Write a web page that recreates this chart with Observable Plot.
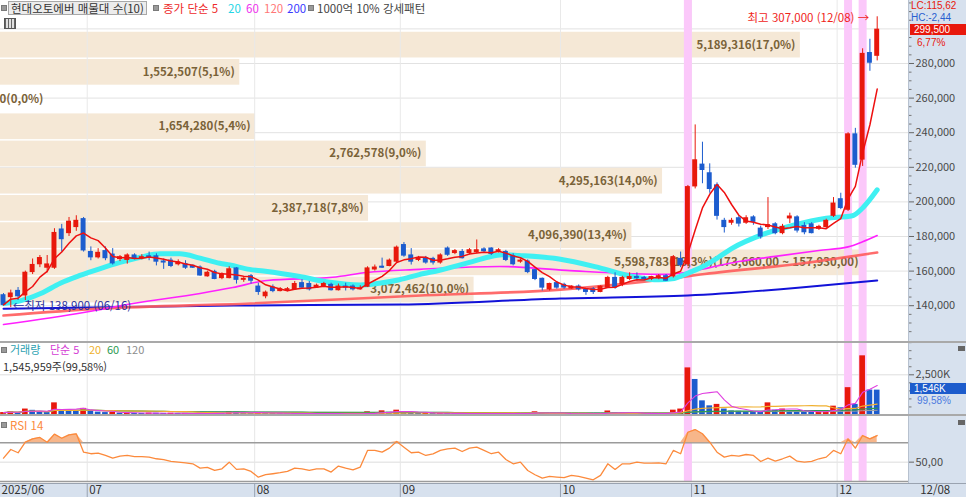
<!DOCTYPE html>
<html lang="ko">
<head>
<meta charset="utf-8">
<title>현대오토에버 차트</title>
<script src="https://cdn.jsdelivr.net/npm/d3@7"></script>
<script src="https://cdn.jsdelivr.net/npm/@observablehq/plot@0.6"></script>
<style>
  html,body{margin:0;padding:0;background:#fff;}
  #wrap{position:relative;width:966px;height:497px;overflow:hidden;background:#fff;font-family:"Noto Sans CJK KR","Noto Sans",sans-serif;}
  .t{position:absolute;white-space:nowrap;font-size:11.5px;line-height:13px;}
  .r{position:absolute;white-space:nowrap;font-family:"Liberation Sans","DejaVu Sans",sans-serif;font-size:10px;line-height:10px;}
  .sq{position:absolute;width:4px;height:4px;background:#9a9a9a;border:1px solid #7a7a7a;}
  .ln{position:absolute;left:0;width:966px;}
</style>
</head>
<body>
<div id="wrap"></div>
<script>
// ---------------- data ----------------
const open = [146000,145000,148500,146000,159500,164000,162000,162000,184000,182000,
185500,190000,171000,168000,171500,169500,167000,166500,169000,167500,
168500,168500,165500,166000,164000,164000,163000,162000,157000,159500,
156000,156000,161500,155000,157000,151000,145500,150500,148500,149000,
149500,153000,152500,150500,151000,152000,149000,151000,151000,149500,
151000,161000,162500,163000,165500,175000,169000,166500,167500,167000,
165000,173000,170500,171000,170500,171000,172500,173000,171500,171000,
168500,165500,165500,160500,155500,149500,153000,152000,150000,151000,
149000,149500,148000,150500,156000,152500,155500,156500,156000,155500,
156000,157000,157000,167000,164000,209000,221500,216500,209500,189000,
188000,190500,188000,191000,184500,185500,187000,182000,190500,191000,
186000,187000,184500,185500,192000,201500,195500,239000,224500,286000,
284500];
const high = [147000,149000,150500,160000,167000,169000,169000,184500,187000,191000,
192000,191000,174000,173000,174000,173000,169000,170000,170000,169500,
171000,170000,167000,167500,166500,166000,163500,163000,160000,160500,
159000,162500,162000,156500,158000,153000,148500,152000,150500,150500,
154000,155000,154000,152500,153500,153000,152500,153000,152000,151500,
162500,163500,167500,167000,174500,176500,173000,168500,168500,168000,
170000,174000,172500,172500,173000,178000,173500,173500,173000,172000,
170000,167000,166500,161000,156000,153000,154000,153000,151500,152000,
150000,150500,151500,157000,159000,157000,159000,159000,157000,157000,
158000,158000,169000,171000,209500,244500,234500,222000,211000,190500,
190500,192000,192000,192000,186000,202500,188000,187000,193500,192000,
188000,188000,186500,190000,202500,205000,240000,242500,288500,294000,
307000];
const low = [140000,138900,143000,143000,158000,162000,159000,161000,171000,180000,
183000,171000,166000,167000,166000,163500,165500,164000,166500,166500,
166000,163000,161000,162000,163000,161000,161500,157000,156500,155000,
155000,155500,152500,153500,152500,146000,144000,147500,148000,148000,
149000,150000,148500,150000,150500,148500,148500,148500,148500,149000,
150500,160000,161500,162500,164500,168000,163500,165500,164000,163500,
164000,168500,169500,167000,169500,170000,170500,169000,170500,165500,
163000,164500,158500,154500,148500,148500,149500,149500,149500,148500,
146000,146500,147500,150000,149500,151000,154500,154000,154500,154500,
155000,154000,156000,162000,162500,207500,210500,205000,189500,182000,
186500,185500,187000,186500,178500,184000,181000,181000,187500,182000,
181000,181500,183500,184500,191000,195500,194500,219500,220500,275500,
281500];
const close = [140500,147000,145500,159000,163500,167500,163800,182000,178500,188500,
189000,172000,168000,170500,167500,164500,168000,169000,167500,168000,
168000,165500,165000,163000,165000,162000,162000,157500,159000,155500,
158000,161000,155000,155500,154500,148000,147500,148500,149500,149500,
152500,150500,149500,151500,152500,149000,151000,150500,149500,150000,
161500,162000,162000,166000,173500,169000,165500,167000,165000,165000,
169000,169500,171500,167500,172000,172000,171500,170000,172000,166500,
164000,166000,159500,155500,150500,152500,150500,150500,151000,149500,
148000,148000,151000,156000,150500,156000,156500,156000,155500,156500,
157000,154500,168000,163500,208500,224000,218500,207500,192000,185500,
189000,187500,190500,188500,180000,186500,182000,185500,191500,183500,
182500,182000,185500,189000,199000,196500,239000,221500,285500,280500,
299500];
const volume = [150000,200000,160000,370000,290000,180000,150000,755000,340000,320000,
260000,410000,250000,180000,150000,170000,120000,130000,110000,100000,
120000,110000,100000,110000,90000,100000,80000,110000,100000,120000,
100000,200000,180000,120000,110000,150000,130000,100000,80000,70000,
100000,90000,100000,70000,80000,90000,80000,60000,70000,60000,
200000,130000,260000,170000,300000,200000,150000,100000,110000,90000,
120000,110000,80000,90000,85000,120000,80000,90000,70000,100000,
90000,70000,120000,200000,140000,90000,80000,90000,70000,80000,
60000,70000,80000,250000,150000,120000,110000,90000,100000,80000,
90000,80000,300000,370000,2930000,2210000,880000,570000,660000,370000,
250000,230000,200000,190000,180000,755000,300000,370000,250000,200000,
180000,170000,200000,260000,550000,450000,1700000,660000,3680000,1552480,
1545959];
const rsi14 = [54.1,63.1,59.7,70.6,74.1,75.5,70.6,78.9,74.7,78.2,
79.3,60.3,58.7,59.3,56.9,54.1,56.2,56.9,55.8,55.8,
55.2,53.5,52.5,50.7,50.0,49.3,48.3,43.8,44.5,41.4,
43.1,50.0,42.5,43.1,40.4,34.5,37.0,38.0,39.1,40.4,
43.8,43.1,41.4,43.1,43.1,39.7,45.9,43.8,42.1,44.9,
62.1,62.1,60.3,64.5,71.3,65.5,59.7,60.3,56.9,58.6,
62.1,63.8,64.5,61.0,64.5,65.5,62.1,58.7,60.3,52.8,
48.3,50.0,41.4,37.0,33.5,35.3,34.6,34.0,36.3,35.3,
33.5,31.8,36.3,48.3,42.5,48.3,48.3,50.0,49.0,49.0,
49.3,48.3,62.1,58.7,80.9,83.7,79.3,70.6,60.3,55.2,
56.9,56.2,57.9,56.9,50.7,54.1,51.0,53.5,56.2,51.0,
50.0,50.7,53.5,55.2,62.1,58.7,74.1,64.5,77.5,74.1,
77.5];

// moving-average lines read as sample points (candle index, price)
const ma20Index = [0,2.3,5.1,7.8,10.5,13.3,16,18.8,21.5,24.2,27,29.7,31.1,33.8,35.7,40.5,44.8,49,51.6,54.4,57.1,59.9,64,66.5,68.5,70.8,76.3,81.8,86.3,90,91.8,94.1,96,98.2,100,104.5,108.5,113,116.6,118,120];
const ma20Value = [141300,142800,147000,153000,157500,161500,165000,168000,170000,170000,167500,164500,163500,161000,160000,157000,153500,152000,153000,155000,158000,160500,165000,168000,169500,169000,167000,162000,157000,155000,155500,159000,162500,168000,173000,181500,186500,190500,192000,196500,207000];
const ma60Index = [0,11.2,17.8,27,31.5,36.2,45.2,49.9,57.1,68.1,77.3,91,93.7,97,101,106,112,116,118,120];
const ma60Value = [129100,136200,141300,147100,150500,154600,156400,159200,161000,162700,160400,158100,159200,162000,165500,168500,171900,174000,177000,180600];
const ma120Index = [0,13.3,33.9,57.3,76.5,91.2,95.7,109.5,120];
const ma120Value = [134300,138300,141300,145900,149300,155500,158000,164400,170700];
const ma200Index = [0,31.6,54.5,76.5,94,109.5,120];
const ma200Value = [138200,140100,140700,144200,145900,150500,154600];

// volume-at-price bands (매물대), bottom to top
const bandLow    = [142200,157930,173660,189390,205120,220850,236580,252310,268040,283770];
const bandHigh   = [157930,173660,189390,205120,220850,236580,252310,268040,283770,299500];
const bandVolume = [3072462,5598783,4096390,2387718,4295163,2762578,1654280,0,1552507,5189316];
const bandPct    = [10.0,18.3,13.4,7.8,14.0,9.0,5.4,0.0,5.1,17.0];

const patternIdx = [94,116,118];          // 강세패턴 days
const monthStartIdx = [12,35,55,77,95,115];
const monthLabels = ["07","08","09","10","11","12"];
const firstLabel = "2025/06";
const lastLabel = "12/08";
const highDate = "12/08", lowDate = "06/16";
const priceTicks = [140000,160000,180000,200000,220000,240000,260000,280000];
const gridPrices = [140000,160000,180000,200000,220000,240000,260000,280000,300000];
const volTicks = [2500000];
const rsiLevels = [70,30];

// ---------------- setup ----------------
const W = 966, PR = 58, FRAME_W = W - PR;
const XD = [-0.412, 124.3];
const FONT = '"Noto Sans CJK KR","Noto Sans",sans-serif';
const RED = "#e8180c", BLUE = "#1c5cce";
const fmt = d3.format(",");
const dec = (v, n) => v.toFixed(n).replace(".", ",");
const N = close.length;
const candles = close.map((c, i) => ({i, o: open[i], h: high[i], l: low[i], c, up: c >= open[i]}));
const pxToX = px => XD[0] + px / FRAME_W * (XD[1] - XD[0]);
const maxBandVol = d3.max(bandVolume);
const maxBandIdx = d3.maxIndex(bandVolume);
const bands = bandLow.map((lo, k) => {
  const vol = bandVolume[k];
  let label = `${fmt(vol)}(${dec(bandPct[k], 1)}%)`;
  if (k === maxBandIdx) label += `(${fmt(bandHigh[k])},00 ~ ${fmt(lo)},00)`;
  return {lo, hi: bandHigh[k], vol, label, x2: pxToX(vol / maxBandVol * 863)};
});
const ptsOf = (idx, val) => idx.map((x, k) => ({x, v: val[k]}));
const monthX = d => d - 0.5;
const commonStyle = {background: "transparent", fontFamily: FONT, fontSize: "11px", overflow: "visible"};
const hiI = d3.maxIndex(high), loI = d3.minIndex(low);

// ---------------- price panel ----------------
const pricePlot = Plot.plot({
  width: W, height: 341, marginTop: 0, marginBottom: 0, marginLeft: 0, marginRight: PR,
  style: commonStyle,
  x: {domain: XD, axis: null},
  y: {domain: [119306, 316416], label: null},
  marks: [
    Plot.ruleY(gridPrices, {stroke: "#e2e2e2"}),
    Plot.rect(bands.filter(b => b.vol > 0), {x1: () => XD[0], x2: "x2", y1: "lo", y2: "hi", fill: "#f5e8d6", insetTop: 2.5, insetBottom: -1}),
    Plot.ruleX(monthStartIdx, {x: monthX, stroke: "#e9e9e9"}),
    Plot.ruleX(patternIdx, {x: d => d, stroke: "#fbc8fa", strokeWidth: 8}),
    Plot.text(bands.filter(b => b.vol > 0), {x: "x2", y: d => (d.lo + d.hi) / 2, text: "label", textAnchor: "end", dx: -5, dy: 1.5, fill: "#7a6238", fontSize: 11.5, fontWeight: "bold"}),
    Plot.text(bands.filter(b => b.vol === 0), {x: () => XD[0], y: d => (d.lo + d.hi) / 2, text: "label", textAnchor: "start", dx: -1, dy: 1.5, fill: "#7a6238", fontSize: 11.5, fontWeight: "bold"}),
    Plot.line(ptsOf(ma200Index, ma200Value), {x: "x", y: "v", stroke: "#1212d8", strokeWidth: 2, curve: "monotone-x"}),
    Plot.line(ptsOf(ma120Index, ma120Value), {x: "x", y: "v", stroke: "#ff5c5c", strokeWidth: 2.6, strokeOpacity: 0.9, curve: "monotone-x"}),
    Plot.line(ptsOf(ma60Index, ma60Value), {x: "x", y: "v", stroke: "#ff20ff", strokeWidth: 1.6, curve: "monotone-x"}),
    Plot.line(ptsOf(ma20Index, ma20Value), {x: "x", y: "v", stroke: "#3ff0f2", strokeWidth: 5, curve: "monotone-x"}),
    Plot.ruleX(candles, {filter: d => d.up, x: "i", y1: "l", y2: "h", stroke: RED, strokeWidth: 1}),
    Plot.ruleX(candles, {filter: d => !d.up, x: "i", y1: "l", y2: "h", stroke: BLUE, strokeWidth: 1}),
    Plot.rect(candles, {filter: d => d.up, x1: d => d.i - 0.34, x2: d => d.i + 0.34, y1: d => Math.min(d.o, d.c), y2: d => Math.max(d.o, d.c), fill: RED, insetTop: -0.6, insetBottom: -0.6}),
    Plot.rect(candles, {filter: d => !d.up, x1: d => d.i - 0.34, x2: d => d.i + 0.34, y1: d => Math.min(d.o, d.c), y2: d => Math.max(d.o, d.c), fill: BLUE, insetTop: -0.6, insetBottom: -0.6}),
    Plot.lineY(candles, Plot.windowY({k: 5, anchor: "end"}, {x: "i", y: "c", stroke: "#ee1010", strokeWidth: 1.5})),
    Plot.text([hiI], {x: d => d, y: d => high[d], text: d => `최고 ${fmt(high[d])} (${highDate}) →`, textAnchor: "end", dx: -8, dy: 2, fill: "#f0241a", fontSize: 11.5}),
    Plot.text([loI], {x: d => d, y: d => low[d], text: d => `←최저 ${fmt(low[d])} (${lowDate})`, textAnchor: "start", dx: 2, dy: -1, fill: "#2b309c", fontSize: 11.5}),
    Plot.axisY(d3.range(120000, 316000, 5000).filter(v => v % 20000 !== 0), {anchor: "right", tickSize: 2.5, tickFormat: () => "", stroke: "#777", label: null}),
    Plot.axisY(priceTicks, {anchor: "right", tickSize: 5, tickPadding: 2, tickFormat: fmt, stroke: "#666", fill: "#4a4a4a", fontSize: 11, label: null})
  ]
});

// ---------------- volume panel ----------------
const vols = volume.map((v, i) => ({i, v, up: i === 0 || v >= volume[i - 1]}));
const volPlot = Plot.plot({
  width: W, height: 74, marginTop: 0, marginBottom: 0, marginLeft: 0, marginRight: PR,
  style: commonStyle,
  x: {domain: XD, axis: null},
  y: {domain: [0, 4571000], range: [73.5, 0], label: null},
  marks: [
    Plot.ruleY(volTicks, {stroke: "#dedede"}),
    Plot.ruleX(monthStartIdx, {x: monthX, stroke: "#e6e6e6"}),
    Plot.ruleX(patternIdx, {x: d => d, stroke: "#fbc8fa", strokeWidth: 8}),
    Plot.rectY(vols, {filter: d => d.up, x1: d => d.i - 0.39, x2: d => d.i + 0.39, y: "v", fill: RED}),
    Plot.rectY(vols, {filter: d => !d.up, x1: d => d.i - 0.39, x2: d => d.i + 0.39, y: "v", fill: BLUE}),
    Plot.lineY(vols, Plot.windowY({k: 120, anchor: "end"}, {x: "i", y: "v", stroke: "#a0a0a0", strokeWidth: 1})),
    Plot.lineY(vols, Plot.windowY({k: 60, anchor: "end"}, {x: "i", y: "v", stroke: "#2e9a52", strokeWidth: 1.2})),
    Plot.lineY(vols, Plot.windowY({k: 20, anchor: "end"}, {x: "i", y: "v", stroke: "#f0b030", strokeWidth: 1.2})),
    Plot.lineY(vols, Plot.windowY({k: 5, anchor: "end"}, {x: "i", y: "v", stroke: "#e040e0", strokeWidth: 1.1})),
    Plot.axisY(d3.range(500000, 4571000, 500000).filter(v => v !== 2500000), {anchor: "right", tickSize: 2.5, tickFormat: () => "", stroke: "#777", label: null}),
    Plot.axisY(volTicks, {anchor: "right", tickSize: 5, tickPadding: 2, tickFormat: d => fmt(d / 1000) + "K", stroke: "#666", fill: "#4a4a4a", fontSize: 11, label: null})
  ]
});

// ---------------- RSI panel ----------------
const rsiData = rsi14.map((r, i) => ({i, r}));
const rsiPlot = Plot.plot({
  width: W, height: 67, marginTop: 0, marginBottom: 0, marginLeft: 0, marginRight: PR,
  style: commonStyle,
  x: {domain: XD, axis: null},
  y: {domain: [28.97, 98.2], range: [67, 0], label: null},
  marks: [
    Plot.ruleY([50], {stroke: "#dcdcdc"}),
    Plot.ruleX(monthStartIdx, {x: monthX, stroke: "#e6e6e6"}),
    Plot.ruleX(patternIdx, {x: d => d, stroke: "#fbc8fa", strokeWidth: 8}),
    Plot.ruleY(rsiLevels, {stroke: "#9b9b9b", strokeWidth: 1.5}),
    Plot.areaY(rsiData, {x: "i", y1: () => 70, y2: d => Math.max(d.r, 70), fill: "#f7b68a"}),
    Plot.lineY(rsiData, {x: "i", y: "r", stroke: "#fc8a3c", strokeWidth: 1.3}),
    Plot.axisY([50], {anchor: "right", tickSize: 5, tickPadding: 2, tickFormat: d => dec(d, 2), stroke: "#666", fill: "#4a4a4a", fontSize: 11, label: null})
  ]
});

// ---------------- date strip ----------------
const datePlot = Plot.plot({
  width: W, height: 14, marginTop: 0, marginBottom: 0, marginLeft: 0, marginRight: PR,
  style: commonStyle,
  x: {domain: XD, axis: null},
  y: {domain: [0, 1], axis: null},
  marks: [
    Plot.ruleX(monthStartIdx, {x: monthX, stroke: "#98a2b2"}),
    Plot.text(monthStartIdx, {x: monthX, y: () => 0.5, text: (d, k) => monthLabels[k], textAnchor: "start", dx: 2, fill: "#333", fontSize: 11.5}),
    Plot.text([firstLabel], {x: () => XD[0], y: () => 0.5, text: d => d, textAnchor: "start", dx: 1, fill: "#333", fontSize: 11.5}),
    Plot.text([lastLabel], {x: () => N - 1, y: () => 0.5, text: d => d, textAnchor: "start", dx: 43, fill: "#333", fontSize: 11.5})
  ]
});

// ---------------- assemble ----------------
const wrap = document.getElementById("wrap");
const add = html => wrap.insertAdjacentHTML("beforeend", html);
add(`<div style="position:absolute;left:908px;top:0;width:58px;height:497px;background:#d7e1ee;border-left:1px solid #b7c1cf;box-sizing:border-box"></div>`);
add(`<div class="ln" style="top:483px;height:14px;background:#d7e1ee;border-top:1px solid #9aa3b0;box-sizing:border-box"></div>`);
function place(svg, top) { svg.style.position = "absolute"; svg.style.left = "0px"; svg.style.top = top + "px"; wrap.appendChild(svg); }
place(pricePlot, 0);
place(volPlot, 341);
place(rsiPlot, 415);
place(datePlot, 483);
add(`<div class="ln" style="top:341px;height:2px;background:#a9a9a9"></div>`);
add(`<div class="ln" style="top:414px;height:2px;background:#a9a9a9"></div>`);

const sApply = (plot, v) => { const s = plot.scale("y"); return s.apply ? s.apply(v) : d3.scaleLinear(s.domain, s.range)(v); };

// top legend
add(`<div class="sq" style="left:1px;top:5px"></div>`);
add(`<div class="t" style="left:8px;top:1px;height:14px;padding:0 2px;border:1px solid #a8a8a8;background:#ececec;color:#333;box-sizing:border-box;line-height:12px;font-size:11.5px">현대오토에버 매물대 수(10)</div>`);
add(`<div class="sq" style="left:153px;top:5px"></div>`);
add(`<div class="t" style="left:163px;top:2px;color:#ee2a2a">종가 단순 5</div>`);
add(`<div class="t" style="left:228px;top:2px;color:#22d5e5">20</div>`);
add(`<div class="t" style="left:246px;top:2px;color:#ee33ee">60</div>`);
add(`<div class="t" style="left:264px;top:2px;color:#ff7777">120</div>`);
add(`<div class="t" style="left:287px;top:2px;color:#3a3aff">200</div>`);
add(`<div class="sq" style="left:308px;top:5px"></div>`);
add(`<div class="t" style="left:317px;top:2px;color:#444">1000억 10% 강세패턴</div>`);
add(`<div style="position:absolute;left:4px;top:18px;width:12px;height:11px;border:1px solid #555;box-sizing:border-box;background:repeating-linear-gradient(90deg,#666 0 1px,#e0e0e0 1px 3px)"></div>`);

// right panel price info
const lastC = close[N - 1], prevC = close[N - 2];
const yLast = sApply(pricePlot, lastC);
add(`<div class="r" style="left:911px;top:1px;color:#e8180c">LC:${dec((lastC / low[loI] - 1) * 100, 2)}</div>`);
add(`<div class="r" style="left:911px;top:13px;color:#2a5fd0">HC:${dec((lastC / high[hiI] - 1) * 100, 2)}</div>`);
add(`<div class="r" style="left:910px;top:${yLast - 5}px;width:56px;height:11px;line-height:11px;background:#e8180c;color:#fff;padding-left:4px;box-sizing:border-box">${fmt(lastC)}</div>`);
add(`<div class="r" style="left:917px;top:${yLast + 8.5}px;color:#e8180c">${dec((lastC / prevC - 1) * 100, 2)}%</div>`);

// volume legend & info
const lastV = volume[N - 1], prevV = volume[N - 2];
add(`<div class="sq" style="left:1px;top:347px"></div>`);
add(`<div class="t" style="left:10px;top:343px;line-height:12px;font-size:11px;color:#2c9fb0">거래량</div>`);
add(`<div class="t" style="left:50px;top:343px;line-height:12px;font-size:11px;color:#d43cd4">단순 5</div>`);
add(`<div class="t" style="left:89px;top:343px;line-height:12px;font-size:11px;color:#efb02c">20</div>`);
add(`<div class="t" style="left:107px;top:343px;line-height:12px;font-size:11px;color:#2e9a52">60</div>`);
add(`<div class="t" style="left:126px;top:343px;line-height:12px;font-size:11px;color:#8c8c8c">120</div>`);
add(`<div class="t" style="left:3px;top:360px;line-height:12px;font-size:11px;color:#333">${fmt(lastV)}주(${dec(lastV / prevV * 100, 2)}%)</div>`);
const yVol = 341 + sApply(volPlot, lastV);
add(`<div class="r" style="left:910px;top:${yVol - 7}px;width:56px;height:11px;line-height:11px;background:#1d5ccc;color:#fff;padding-left:4px;box-sizing:border-box">${fmt(Math.round(lastV / 1000))}K</div>`);
add(`<div class="r" style="left:917px;top:${yVol + 6.5}px;color:#4a7ae0">${dec(lastV / prevV * 100, 2)}%</div>`);
add(`<div style="position:absolute;left:958px;top:346px;width:7px;height:5px;background:#666"></div>`);

// RSI legend
add(`<div class="sq" style="left:1px;top:422px"></div>`);
add(`<div class="t" style="left:10px;top:419px;line-height:12px;color:#fc8a3c">RSI 14</div>`);
add(`<div style="position:absolute;left:958px;top:420px;width:7px;height:5px;background:#666"></div>`);
</script>
</body>
</html>
